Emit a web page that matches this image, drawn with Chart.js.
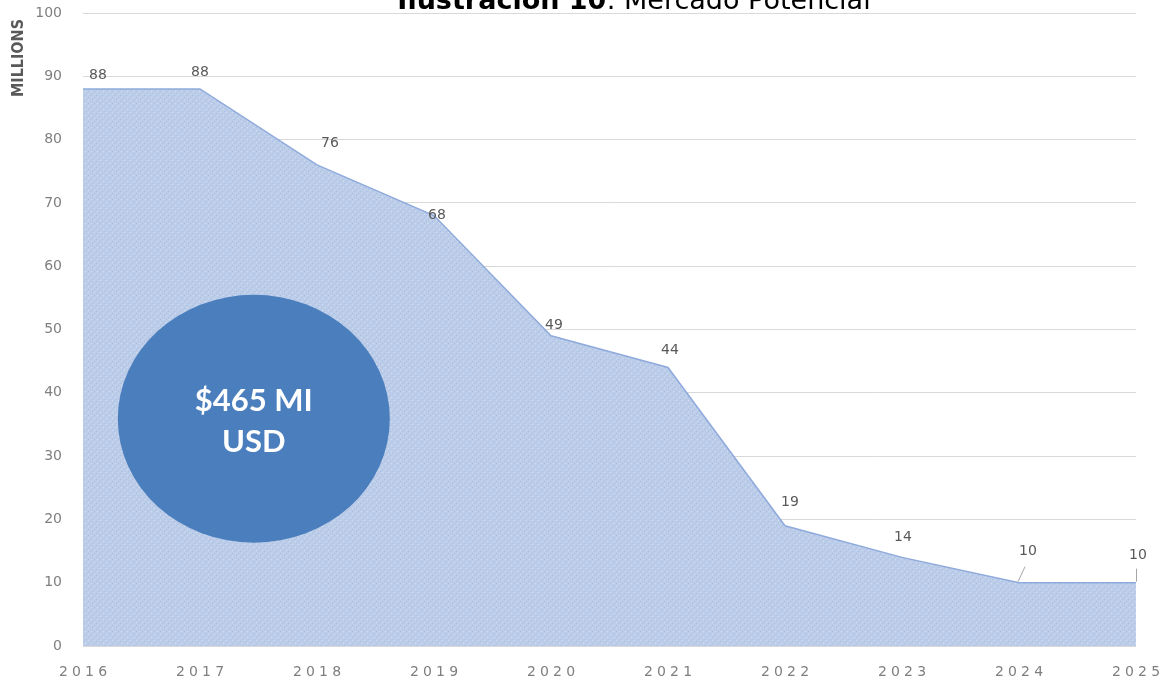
<!DOCTYPE html>
<html lang="es">
<head>
<meta charset="utf-8">
<title>Mercado Potencial</title>
<script src="https://cdn.jsdelivr.net/npm/chart.js@4.4.0/dist/chart.umd.min.js"></script>
<style>
    html, body { margin: 0; padding: 0; background: #ffffff; }
    #contenedor { width: 1163px; height: 683px; position: relative; }
</style>
</head>
<body>
<div id="contenedor"><canvas id="mercadoChart"></canvas></div>
<script>
// Datos del gráfico
const anios = ['2016', '2017', '2018', '2019', '2020', '2021', '2022', '2023', '2024', '2025'];
const valores = [88, 88, 76, 68, 49, 44, 19, 14, 10, 10];
const ticksY = [0, 10, 20, 30, 40, 50, 60, 70, 80, 90, 100];
const textoCirculo = ['$465 MI', 'USD'];

// Colores
const colores = {
    relleno: '#bccde9',
    borde: '#8faadc',
    circulo: '#4a7ebd',
    texto: '#595959',
    ticks: '#7f7f7f',
    grid: '#d9d9d9'
};

// Desplazamiento de las etiquetas respecto a cada punto (px)
const desplazamientos = [[15, -14], [0, -17], [13, -22], [3, 0], [3, -10], [2, -17], [5, -23], [1, -20], [9, -31], [2, -27]];

// Patrón de trama fina para el área
const crearTrama = () => {
    const c = document.createElement('canvas');
    c.width = 6; c.height = 6;
    const g = c.getContext('2d');
    g.fillStyle = colores.relleno;
    g.fillRect(0, 0, 6, 6);
    g.fillStyle = 'rgba(150,172,210,0.45)';
    g.fillRect(0, 5, 1, 1);
    g.fillRect(2, 3, 1, 1);
    g.fillRect(4, 1, 1, 1);
    g.fillStyle = 'rgba(255,255,255,0.35)';
    g.fillRect(1, 1, 1, 1);
    g.fillRect(4, 4, 1, 1);
    return g.createPattern(c, 'repeat');
};

// Plugin: título, rótulo del eje, etiquetas y círculo
const extras = {
    id: 'extras',
    afterDatasetsDraw(chart) {
        const { ctx, scales: { x, y } } = chart;
        const meta = chart.getDatasetMeta(0);

        // Círculo con el total
        const cx = x.getPixelForValue(1.46);
        const cy = y.getPixelForValue(35.9);
        ctx.save();
        ctx.beginPath();
        ctx.ellipse(cx, cy, 136, 124, 0, 0, Math.PI * 2);
        ctx.fillStyle = colores.circulo;
        ctx.fill();
        ctx.fillStyle = '#ffffff';
        ctx.font = 'bold 31px Lato, "Open Sans", sans-serif';
        ctx.textAlign = 'center';
        ctx.textBaseline = 'middle';
        ctx.fillText(textoCirculo[0], cx, cy - 18);
        ctx.fillText(textoCirculo[1], cx, cy + 23);
        ctx.restore();

        // Etiquetas de datos
        ctx.save();
        ctx.font = '14px "DejaVu Sans", sans-serif';
        ctx.fillStyle = colores.texto;
        ctx.textAlign = 'center';
        ctx.textBaseline = 'middle';
        meta.data.forEach((p, i) => {
            const [dx, dy] = desplazamientos[i];
            ctx.fillText(String(valores[i]), p.x + dx, p.y + dy);
        });
        // líneas guía de las dos últimas etiquetas
        ctx.strokeStyle = '#a6a6a6';
        ctx.lineWidth = 1;
        const p8 = meta.data[8], p9 = meta.data[9];
        ctx.beginPath();
        ctx.moveTo(p8.x - 1, p8.y - 1);
        ctx.lineTo(p8.x + 6, p8.y - 16);
        ctx.moveTo(p9.x + 0.5, p9.y - 1);
        ctx.lineTo(p9.x + 0.5, p9.y - 14);
        ctx.stroke();
        ctx.restore();

        // Título (cortado arriba como en la imagen)
        ctx.save();
        ctx.textBaseline = 'alphabetic';
        ctx.textAlign = 'left';
        ctx.fillStyle = '#000000';
        const negrita = 'bold 27px "DejaVu Sans", sans-serif';
        const normal = '27px "DejaVu Sans", sans-serif';
        const t1 = 'Ilustración 10', t2 = ': Mercado Potencial';
        ctx.font = negrita;
        const w1 = ctx.measureText(t1).width;
        ctx.font = normal;
        const w2 = ctx.measureText(t2).width;
        const x0 = 634 - (w1 + w2) / 2;
        ctx.font = negrita;
        ctx.fillText(t1, x0, 9);
        ctx.font = normal;
        ctx.fillText(t2, x0 + w1, 9);
        ctx.restore();

        // Rótulo del eje Y
        ctx.save();
        ctx.translate(19, 58);
        ctx.rotate(-Math.PI / 2);
        ctx.font = 'bold 16px "DejaVu Sans Condensed", "DejaVu Sans", sans-serif';
        ctx.fillStyle = colores.texto;
        ctx.textAlign = 'center';
        ctx.textBaseline = 'middle';
        ctx.fillText('MILLIONS', 0, 0);
        ctx.restore();
    }
};

new Chart(document.getElementById('mercadoChart').getContext('2d'), {
    type: 'line',
    data: {
        labels: anios,
        datasets: [{
            data: valores,
            fill: 'origin',
            backgroundColor: crearTrama(),
            borderColor: colores.borde,
            borderWidth: 1.5,
            pointRadius: 0,
            tension: 0
        }]
    },
    options: {
        responsive: true,
        maintainAspectRatio: false,
        animation: false,
        layout: { padding: { top: 13, right: 27, bottom: 0, left: 0 } },
        plugins: {
            legend: { display: false },
            title: { display: false },
            tooltip: { enabled: false }
        },
        scales: {
            x: {
                offset: false,
                grid: { display: false, drawTicks: false },
                border: { display: false },
                ticks: {
                    color: colores.ticks,
                    font: { size: 14, family: '"DejaVu Sans", sans-serif' },
                    padding: 18,
                    maxRotation: 0,
                    autoSkip: false,
                    callback: (v, i) => anios[i].split('').join('\u2009\u200A')
                },
                afterFit: s => {
                    s.height = 37;
                    s.paddingLeft = 0;
                    s.paddingRight = 0;
                }
            },
            y: {
                min: 0,
                max: 100,
                afterBuildTicks: s => { s.ticks = ticksY.map(v => ({ value: v })); },
                grid: { color: colores.grid, drawTicks: false },
                border: { display: false },
                ticks: {
                    color: colores.ticks,
                    font: { size: 14, family: '"DejaVu Sans", sans-serif' },
                    padding: 21
                },
                afterFit: s => {
                    s.width = 83;
                    s.paddingTop = 0;
                    s.paddingBottom = 0;
                }
            }
        }
    },
    plugins: [extras]
});
</script>
</body>
</html>
